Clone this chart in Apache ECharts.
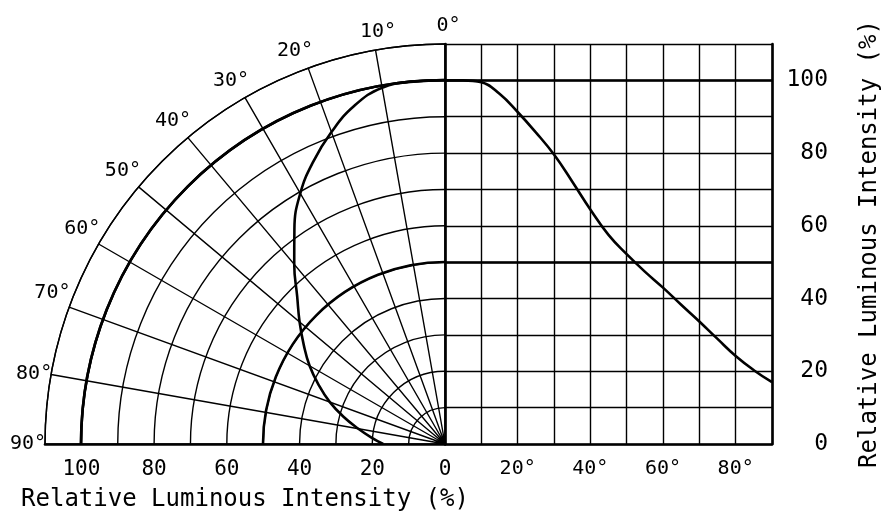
<!DOCTYPE html>
<html><head><meta charset="utf-8">
<script src="https://cdn.jsdelivr.net/npm/echarts@6/dist/echarts.min.js"></script>
<style>html,body{margin:0;padding:0;background:#fff}#c{width:885px;height:529px}</style>
</head><body><div id="c"></div>
<script>
// Angle from the optical axis (degrees)
const angles = [0, 5, 10, 15, 20, 25, 30, 35, 40, 45, 50, 55, 60, 65, 70, 75, 80, 85, 90];
// Relative luminous intensity (%)
const intensity = [100, 100, 99.5, 96.3, 91.3, 85.7, 79.6, 72.2, 64.5, 57.5, 52.2, 47.4, 43, 38.3, 33.7, 28.9, 24.2, 20.3, 17];
const titleText = 'Relative Luminous Intensity (%)';

const FONT = 'DejaVu Sans Mono';
const K = '#000';
const thin = 1.4, thick = 2.6;

const chart = echarts.init(document.getElementById('c'), null, {renderer: 'canvas'});
chart.setOption({
  backgroundColor: '#fff',
  animation: false,
  textStyle: {fontFamily: FONT, color: K},
  polar: [
    {center: [445, 444], radius: 400},
    {center: [445, 444], radius: 364}
  ],
  angleAxis: [
    {polarIndex: 0, type: 'value', min: 0, max: 90, interval: 10,
     startAngle: 90, endAngle: 180, clockwise: false,
     axisLine: {show: true, lineStyle: {color: K, width: thin}},
     axisTick: {show: false},
     axisLabel: {formatter: v => v + '°', margin: 6, padding: [0, -7, 2, 0],
                 color: K, fontSize: 20, fontFamily: FONT},
     splitLine: {show: true, lineStyle: {color: K, width: thin}}},
    {polarIndex: 1, type: 'value', min: 0, max: 90, interval: 10,
     startAngle: 90, endAngle: 180, clockwise: false,
     axisLine: {show: true, lineStyle: {color: K, width: thick}},
     axisTick: {show: false}, axisLabel: {show: false}, splitLine: {show: false}}
  ],
  radiusAxis: [
    {polarIndex: 0, type: 'value', min: 0, max: 110, interval: 10,
     axisLine: {show: false}, axisTick: {show: false}, axisLabel: {show: false},
     splitLine: {show: true, lineStyle: {color: K, width: thin}}},
    {polarIndex: 1, type: 'value', min: 0, max: 100, interval: 50,
     axisLine: {show: false}, axisTick: {show: false}, axisLabel: {show: false},
     splitLine: {show: true, lineStyle: {color: K, width: thick}}}
  ],
  grid: [
    {left: 445, top: 44, width: 327, height: 400},
    {left: 45, top: 44, width: 400, height: 400}
  ],
  xAxis: [
    {gridIndex: 0, type: 'value', min: 0, max: 90, interval: 10,
     axisLine: {show: true, onZero: false, lineStyle: {color: K, width: thick}},
     axisTick: {show: false},
     axisLabel: {formatter: v => (v > 0 && v % 20 === 0) ? v + '°' : '', margin: 15, color: K, fontSize: 20, fontFamily: FONT},
     splitLine: {show: true, lineStyle: {color: K, width: thin}}},
    {gridIndex: 1, type: 'value', min: 0, max: 110, interval: 20, inverse: true,
     axisLine: {show: true, onZero: false, lineStyle: {color: K, width: thick}},
     axisTick: {show: false},
     axisLabel: {formatter: v => v <= 100 ? String(v) : '', margin: 15, color: K, fontSize: 21, fontFamily: FONT, showMaxLabel: false},
     splitLine: {show: false},
     name: titleText, nameLocation: 'middle', nameGap: 44,
     nameTextStyle: {fontSize: 24, color: K, fontFamily: FONT}}
  ],
  yAxis: [
    {gridIndex: 0, type: 'value', position: 'right', min: 0, max: 110, interval: 10,
     axisLine: {show: true, onZero: false, lineStyle: {color: K, width: thick}},
     axisTick: {show: false},
     axisLabel: {formatter: v => (v % 20 === 0 && v <= 100) ? String(v) : '', align: 'right', margin: 56, color: K, fontSize: 23, fontFamily: FONT},
     splitLine: {show: true, lineStyle: {color: K, width: thin}},
     name: titleText, nameLocation: 'middle', nameRotate: 90, nameGap: 86,
     nameTextStyle: {fontSize: 24, color: K, fontFamily: FONT}},
    {gridIndex: 0, type: 'value', position: 'left', min: 0, max: 110,
     axisLine: {show: true, onZero: false, lineStyle: {color: K, width: thick}},
     axisTick: {show: false}, axisLabel: {show: false}, splitLine: {show: false}},
    {gridIndex: 1, type: 'value', min: 0, max: 110, show: false}
  ],
  series: [
    {type: 'line', coordinateSystem: 'polar', polarIndex: 0,
     data: angles.map((a, i) => [intensity[i], a]),
     smooth: 0.45, symbol: 'none', lineStyle: {color: K, width: thick}, z: 5},
    {type: 'line', xAxisIndex: 0, yAxisIndex: 0,
     data: angles.map((a, i) => [a, intensity[i]]),
     smooth: 0.45, symbol: 'none', lineStyle: {color: K, width: thick}, z: 5,
     markLine: {silent: true, symbol: 'none', label: {show: false},
       lineStyle: {color: K, width: thick, type: 'solid'},
       data: [{yAxis: 50}, {yAxis: 100}]}}
  ]
});
</script></body></html>
